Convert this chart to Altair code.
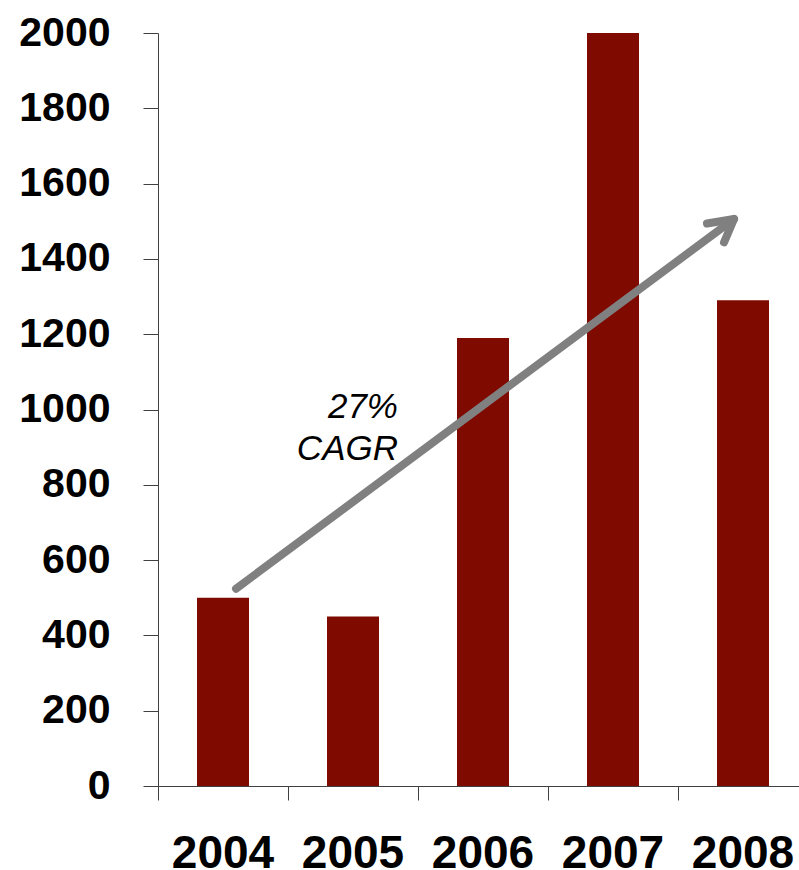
import altair as alt
import pandas as pd

# Annual values
years = ["2004", "2005", "2006", "2007", "2008"]
values = [500, 450, 1190, 2000, 1290]

# Trend arrow, x measured in category steps (0 = left edge of the 2004 slot)
shaft_x = [0.6, 4.431]
shaft_y = [524, 1506]
head_x = [4.223, 4.431, 4.354]
head_y = [1494, 1506, 1444]

# Slot boundaries for the x-axis ticks, in the same step units
slot_edges = [0, 1, 2, 3, 4, 5]

# Growth annotation
label_lines = ["27%", "CAGR"]
label_x = [1.846]
label_y = [977]

FONT = "Arial, Liberation Sans, sans-serif"
AXIS_GREY = "#404040"
ARROW_GREY = "#808080"

bar_df = pd.DataFrame({"year": years, "value": values})
shaft_df = pd.DataFrame({"x": shaft_x, "y": shaft_y, "i": range(len(shaft_x))})
head_df = pd.DataFrame({"x": head_x, "y": head_y, "i": range(len(head_x))})
label_df = pd.DataFrame({"x": label_x, "y": label_y})

y_enc = alt.Y(
    "value:Q",
    scale=alt.Scale(domain=[0, 2000], nice=False),
    axis=alt.Axis(
        title=None,
        values=list(range(0, 2001, 200)),
        format="d",
        grid=False,
        labelFont=FONT,
        labelFontSize=41,
        labelFontWeight="bold",
        labelColor="black",
        labelPadding=33,
        tickSize=15,
        tickColor=AXIS_GREY,
        domainColor=AXIS_GREY,
    ),
)

bars = alt.Chart(bar_df).mark_bar(color="#7F0A00").encode(
    x=alt.X(
        "year:N",
        sort=years,
        scale=alt.Scale(range=[0, 650], paddingInner=0.6, paddingOuter=0.3),
        axis=alt.Axis(
            title=None,
            orient="bottom",
            labelAngle=0,
            ticks=False,
            labelFont=FONT,
            labelFontSize=46,
            labelFontWeight="bold",
            labelColor="black",
            labelPadding=45,
            domainColor=AXIS_GREY,
        ),
    ),
    y=y_enc,
)

step_scale = alt.Scale(domain=[0, 5], range=[0, 650], nice=False, zero=False)
val_y = alt.Y("y:Q")

shaft = alt.Chart(shaft_df).mark_line(
    color=ARROW_GREY, strokeWidth=8, strokeCap="round"
).encode(
    x=alt.X(
        "x:Q",
        scale=step_scale,
        axis=alt.Axis(
            title=None,
            orient="bottom",
            values=slot_edges,
            labels=False,
            domain=False,
            grid=False,
            tickSize=14,
            tickColor=AXIS_GREY,
        ),
    ),
    y=val_y,
    order="i:O",
)

step_x = alt.X("x:Q", scale=step_scale, axis=None)

head = alt.Chart(head_df).mark_line(
    color=ARROW_GREY, strokeWidth=8, strokeCap="round", strokeJoin="round"
).encode(x=step_x, y=val_y, order="i:O")

label = alt.Chart(label_df).mark_text(
    align="right",
    baseline="alphabetic",
    font=FONT,
    fontSize=35,
    fontStyle="italic",
    lineHeight=42,
    color="black",
).encode(x=step_x, y=val_y, text=alt.value(label_lines))

chart = (
    alt.layer(bars, shaft, head, label)
    .resolve_scale(x="independent")
    .properties(
        width=641,
        height=753,
        padding={"left": 158, "top": 33, "right": 0, "bottom": 84},
        autosize=alt.AutoSizeParams(type="none"),
        background="white",
    )
    .configure_view(stroke=None)
)

chart.save("out.html", embed_options={"renderer": "svg", "actions": False})
